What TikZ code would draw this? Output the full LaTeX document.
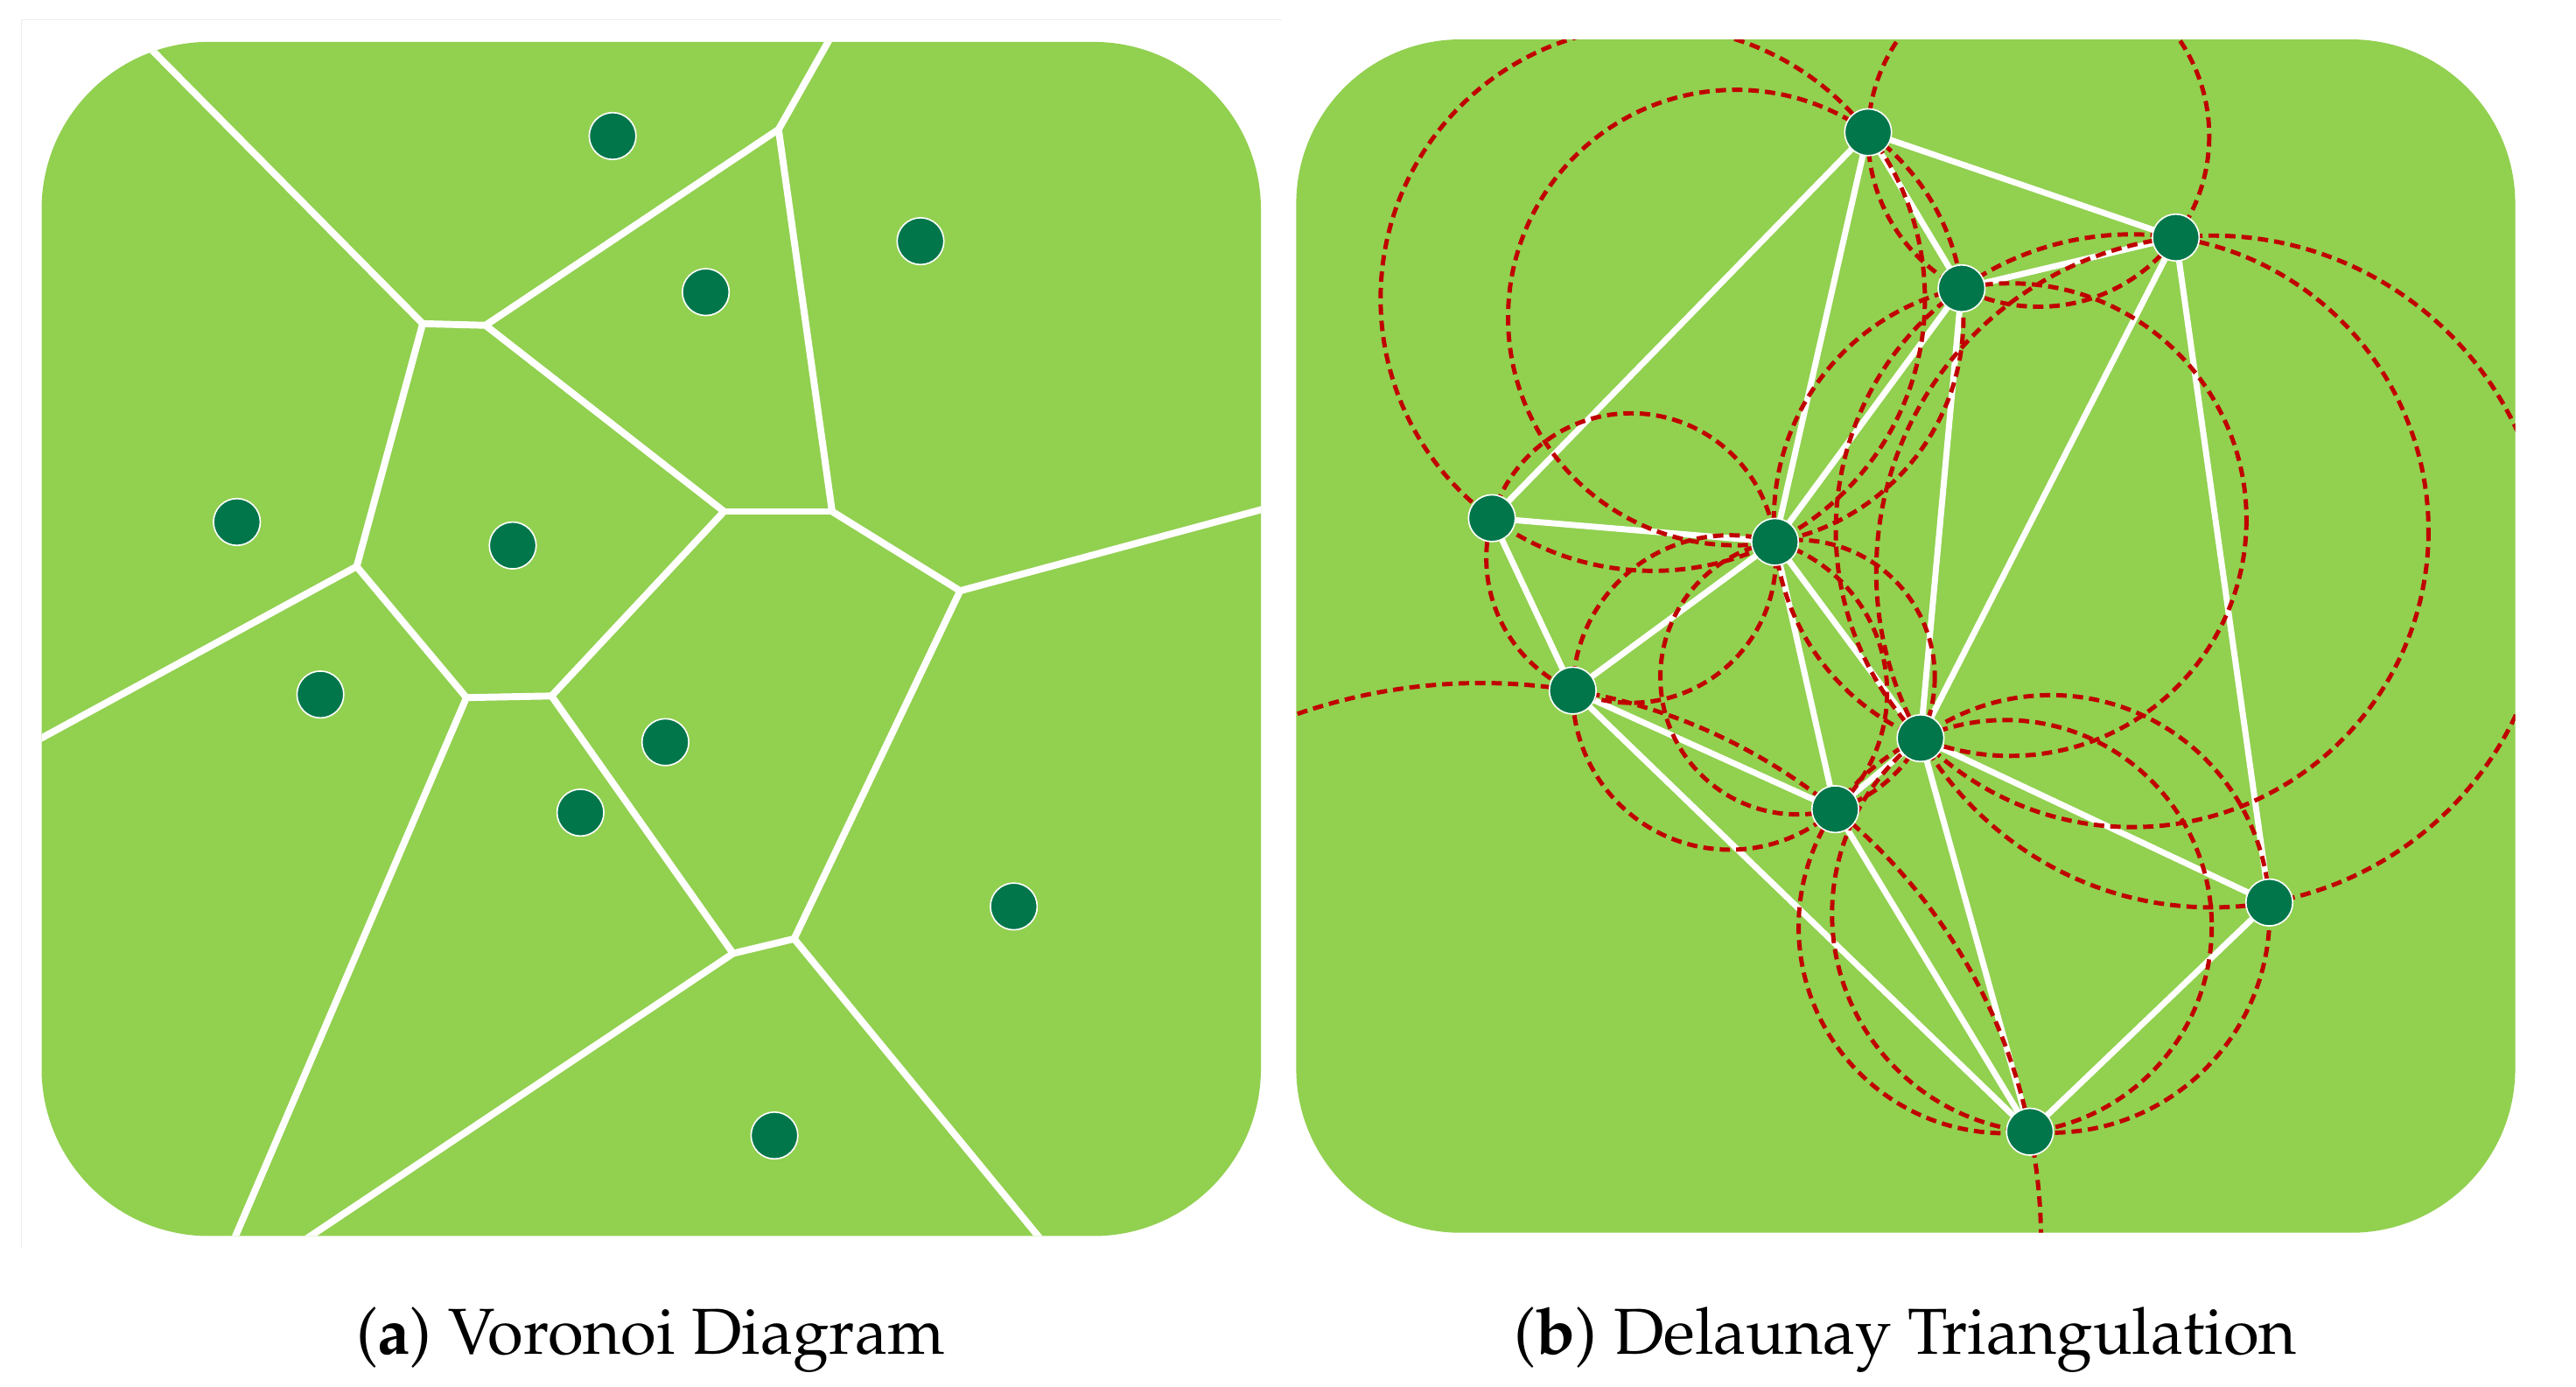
\documentclass[tikz,border=0pt]{standalone}
\usepackage[T1]{fontenc}
\usepackage{mathpazo}
\usetikzlibrary{calc}
\definecolor{panelgreen}{RGB}{146,208,80}
\definecolor{sitegreen}{RGB}{0,118,74}
\definecolor{circred}{RGB}{192,0,0}
\tikzset{
  vedge/.style={white, line width=2.4pt, line cap=round, line join=round},
  dedge/.style={white, line width=2.1pt, line cap=round},
  ccirc/.style={circred, line width=1.5pt, dash pattern=on 3.6pt off 2.1pt},
  dot/.style={circle, fill=sitegreen, draw=white, line width=0.5pt, minimum size=0.57cm, inner sep=0pt},
  captext/.style={font=\fontsize{22.5}{27}\selectfont, anchor=base, inner sep=0pt}
}
\newcommand\setpt[3]{\expandafter\xdef\csname pX#1\endcsname{#2}\expandafter\xdef\csname pY#1\endcsname{#3}}
\newcommand\circum[3]{%
  \pgfmathsetmacro\cAx{\csname pX#1\endcsname/100}%
  \pgfmathsetmacro\cAy{\csname pY#1\endcsname/100}%
  \pgfmathsetmacro\cBx{\csname pX#2\endcsname/100}%
  \pgfmathsetmacro\cBy{\csname pY#2\endcsname/100}%
  \pgfmathsetmacro\cCx{\csname pX#3\endcsname/100}%
  \pgfmathsetmacro\cCy{\csname pY#3\endcsname/100}%
  \pgfmathsetmacro\cDd{2*(\cAx*(\cBy-\cCy)+\cBx*(\cCy-\cAy)+\cCx*(\cAy-\cBy))}%
  \pgfmathsetmacro\cUx{((\cAx*\cAx+\cAy*\cAy)*(\cBy-\cCy)+(\cBx*\cBx+\cBy*\cBy)*(\cCy-\cAy)+(\cCx*\cCx+\cCy*\cCy)*(\cAy-\cBy))/\cDd}%
  \pgfmathsetmacro\cUy{((\cAx*\cAx+\cAy*\cAy)*(\cCx-\cBx)+(\cBx*\cBx+\cBy*\cBy)*(\cAx-\cCx)+(\cCx*\cCx+\cCy*\cCy)*(\cBx-\cAx))/\cDd}%
  \pgfmathsetmacro\cRr{100*veclen(\cUx-\cAx,\cUy-\cAy)}%
  \draw[ccirc] (100*\cUx,100*\cUy) circle[radius=\cRr];%
}
\begin{document}
\begin{tikzpicture}[x=0.02cm, y=-0.02cm]
\useasboundingbox (0,0) rectangle (1568,844);
\fill[white] (0,0) rectangle (1568,844);
% faint frame
\draw[black!7, line width=0.4pt] (13,760) -- (13,12) -- (780,12);

% ---------------- (a) Voronoi ----------------
\fill[panelgreen, rounded corners=2.04cm] (25.3,25.5) rectangle (767.5,752.3);
\begin{scope}
\clip[rounded corners=2.04cm] (25.3,25.5) rectangle (767.5,752.3);
\coordinate (A) at (257.3,197.0);
\coordinate (B) at (295.5,198.0);
\coordinate (C) at (473.9,78.8);
\coordinate (E) at (440.7,311.3);
\coordinate (F) at (506.5,311.3);
\coordinate (G) at (584.4,359.6);
\coordinate (H) at (217.1,344.8);
\coordinate (I) at (283.9,424.6);
\coordinate (J) at (335.7,423.6);
\coordinate (K) at (446.2,580.3);
\coordinate (L) at (483.4,571.4);
\coordinate (At) at ($(A)!1.15!(95.5,33.5)$);
\coordinate (Ct) at ($(C)!1.3!(504,25.6)$);
\coordinate (Gr) at ($(G)!1.1!(767.3,310.3)$);
\coordinate (Hl) at ($(H)!1.1!(25.1,449.3)$);
\coordinate (Ib) at ($(I)!1.1!(143.2,752.7)$);
\coordinate (Kb) at ($(K)!1.1!(188.4,752.7)$);
\coordinate (Lb) at ($(L)!1.1!(632.2,752.7)$);
\foreach \a/\b in {A/At,A/B,A/H,B/C,B/E,C/Ct,C/F,E/F,E/J,F/G,G/Gr,G/L,H/Hl,H/I,I/J,I/Ib,J/K,K/L,K/Kb,L/Lb}
  \draw[vedge] (\a) -- (\b);
\end{scope}
\foreach \n/\x/\y in {1/372.9/82.8,2/429.6/177.8,3/560.3/146.8,4/144.2/317.7,5/312.1/332.0,6/195.0/422.7,7/405.0/451.7,8/353.3/494.6,9/617.1/551.7,10/471.4/691.1}
  \node[dot] (v\n) at (\x,\y) {};

% ---------------- (b) Delaunay ----------------
\fill[panelgreen, rounded corners=2cm] (789,24) rectangle (1531,750.3);
\foreach \n/\x/\y in {1/1137.1/80.5,2/1324.4/144.6,3/1194.0/175.5,4/908.1/315.4,5/1080.4/329.8,6/957.3/420.3,7/1169.0/449.3,8/1117.1/492.5,9/1381.3/549.3,10/1235.6/688.8}{
  \setpt{\n}{\x}{\y}
  \coordinate (d\n) at (\x,\y);
}
\foreach \a/\b in {1/2,1/3,1/4,1/5,2/3,2/7,2/9,3/5,3/7,4/5,4/6,5/6,5/7,5/8,6/8,6/10,7/8,7/9,7/10,8/10,9/10}
  \draw[dedge] (d\a) -- (d\b);
\begin{scope}
\clip[rounded corners=2cm] (789,24) rectangle (1531,750.3);
\circum{1}{2}{3}
\circum{1}{3}{5}
\circum{1}{4}{5}
\circum{2}{3}{7}
\circum{3}{5}{7}
\circum{2}{7}{9}
\circum{4}{5}{6}
\circum{5}{6}{8}
\circum{5}{7}{8}
\circum{6}{8}{10}
\circum{7}{8}{10}
\circum{7}{9}{10}
\end{scope}
\foreach \n in {1,...,10}
  \node[dot] (s\n) at (d\n) {};

% ---------------- captions ----------------
\node[captext] (capa) at (396,824) {(\textbf{a}) Voronoi Diagram};
\node[captext] (capb) at (1160,824) {(\textbf{b}) Delaunay Triangulation};
\end{tikzpicture}
\end{document}
